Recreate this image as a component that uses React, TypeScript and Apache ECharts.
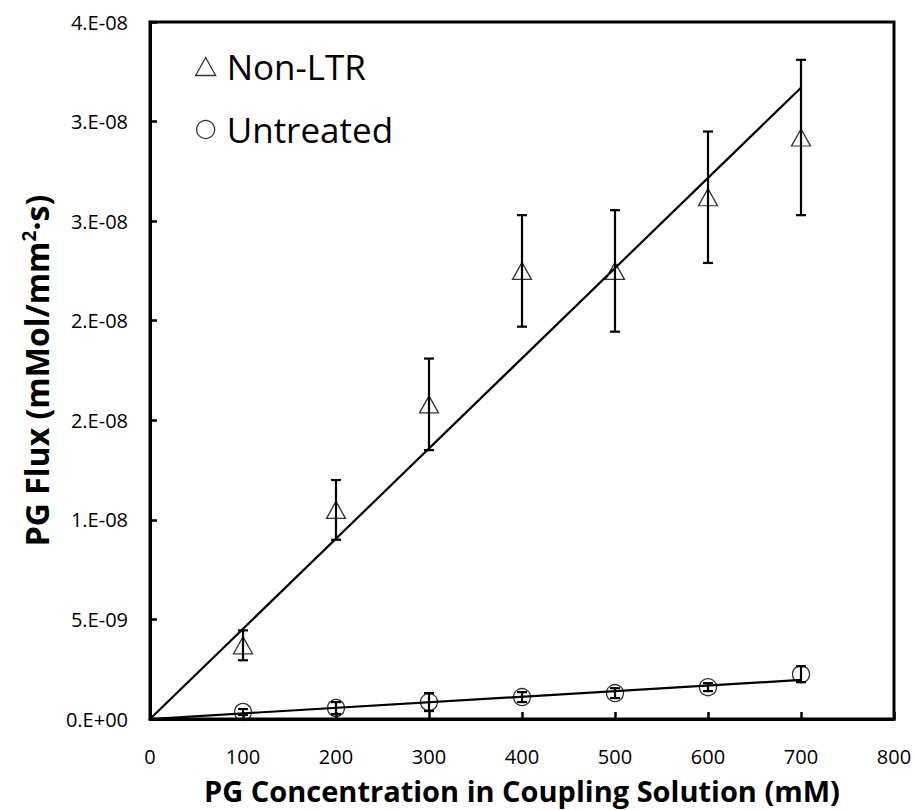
import React, { useEffect, useRef } from "react";
import * as echarts from "echarts";

// Data
const concentrations = [100, 200, 300, 400, 500, 600, 700];
const nonLtrFlux = [3.7e-9, 10.5e-9, 15.8e-9, 22.5e-9, 22.5e-9, 26.2e-9, 29.2e-9];
const nonLtrError = [0.75e-9, 1.5e-9, 2.3e-9, 2.8e-9, 3.05e-9, 3.3e-9, 3.9e-9];
const untreatedFlux = [0.35e-9, 0.55e-9, 0.85e-9, 1.1e-9, 1.3e-9, 1.6e-9, 2.25e-9];
const untreatedError = [0.15e-9, 0.3e-9, 0.45e-9, 0.25e-9, 0.25e-9, 0.2e-9, 0.4e-9];
const nonLtrTrendX = [0, 700];
const nonLtrTrendY = [0, 3.17e-8];
const untreatedTrendX = [0, 700];
const untreatedTrendY = [0, 1.96e-9];
const yTickLabels = ["0.E+00", "5.E-09", "1.E-08", "2.E-08", "2.E-08", "3.E-08", "3.E-08", "4.E-08"];
const seriesNames = ["Non-LTR", "Untreated"];

const FONT = "Open Sans";

function errorData(means: number[], errs: number[]) {
  return concentrations.map((x, i) => [x, means[i] - errs[i], means[i] + errs[i]]);
}

function renderErrorBar(params: any, api: any) {
  const x = api.value(0);
  const lo = api.coord([x, api.value(1)]);
  const hi = api.coord([x, api.value(2)]);
  const cap = 5;
  const style = { stroke: "#000", lineWidth: 2.2 };
  return {
    type: "group",
    children: [
      { type: "line", shape: { x1: lo[0], y1: lo[1], x2: hi[0], y2: hi[1] }, style },
      { type: "line", shape: { x1: hi[0] - cap, y1: hi[1], x2: hi[0] + cap, y2: hi[1] }, style },
      { type: "line", shape: { x1: lo[0] - cap, y1: lo[1], x2: lo[0] + cap, y2: lo[1] }, style },
    ],
  };
}

export default function App() {
  const ref = useRef<HTMLDivElement>(null);
  useEffect(() => {
    if (!ref.current) return;
    const chart = echarts.init(ref.current, null, { renderer: "svg" });
    const markerStyle = { color: "rgba(255,255,255,0)", borderColor: "#000", borderWidth: 1.3 };
    chart.setOption({
      animation: false,
      backgroundColor: "#fff",
      grid: {
        left: 150,
        top: 22,
        right: 23,
        bottom: 91,
        show: true,
        borderColor: "#000",
        borderWidth: 3,
        backgroundColor: "transparent",
      },
      legend: {
        orient: "vertical",
        left: 190,
        top: 44,
        itemGap: 28,
        itemWidth: 20,
        itemHeight: 18,
        textStyle: { fontFamily: FONT, fontSize: 35, color: "#000", padding: [0, 0, 0, 6] },
        data: [
          { name: seriesNames[0], icon: "triangle", itemStyle: { color: "#fff", borderColor: "#000", borderWidth: 1.3 } },
          { name: seriesNames[1], icon: "circle", itemStyle: { color: "#fff", borderColor: "#000", borderWidth: 1.3 } },
        ],
      },
      xAxis: {
        type: "value",
        min: 0,
        max: 800,
        interval: 100,
        name: "PG Concentration in Coupling Solution (mM)",
        nameLocation: "middle",
        nameGap: 57,
        nameTextStyle: { fontFamily: FONT, fontSize: 29, fontWeight: "bold", color: "#000" },
        axisLine: { show: true, lineStyle: { color: "#000", width: 3 } },
        axisTick: { show: true, inside: true, length: 7, lineStyle: { color: "#000", width: 2.5 } },
        axisLabel: { fontFamily: FONT, fontSize: 20, color: "#000", margin: 27 },
        splitLine: { show: false },
      },
      yAxis: {
        type: "value",
        min: 0,
        max: 3.5e-8,
        interval: 5e-9,
        name: "{a|PG Flux (mMol/mm}{sup|2}{a|·s)}",
        nameLocation: "middle",
        nameGap: 96,
        nameTextStyle: {
          fontFamily: FONT,
          fontSize: 32,
          fontWeight: "bold",
          color: "#000",
          rich: {
            a: { fontFamily: FONT, fontSize: 32, fontWeight: "bold", color: "#000" },
            sup: { fontFamily: FONT, fontSize: 19, fontWeight: "bold", color: "#000", padding: [0, 0, 16, 0] },
          },
        },
        axisLine: { show: true, lineStyle: { color: "#000", width: 3 } },
        axisTick: { show: true, inside: true, length: 7, lineStyle: { color: "#000", width: 2.5 } },
        axisLabel: {
          fontFamily: FONT,
          fontSize: 20,
          color: "#000",
          margin: 22,
          formatter: (_v: number, i: number) => yTickLabels[i] ?? "",
        },
        splitLine: { show: false },
      },
      series: [
        {
          name: seriesNames[0] + " trend",
          type: "line",
          data: nonLtrTrendX.map((x, i) => [x, nonLtrTrendY[i]]),
          symbol: "none",
          lineStyle: { color: "#000", width: 2.2 },
          silent: true,
          z: 1,
        },
        {
          name: seriesNames[1] + " trend",
          type: "line",
          data: untreatedTrendX.map((x, i) => [x, untreatedTrendY[i]]),
          symbol: "none",
          lineStyle: { color: "#000", width: 2.2 },
          silent: true,
          z: 1,
        },
        {
          name: seriesNames[0],
          type: "scatter",
          data: concentrations.map((x, i) => [x, nonLtrFlux[i]]),
          symbol: "triangle",
          symbolSize: [19, 17],
          itemStyle: markerStyle,
          z: 2,
        },
        {
          name: seriesNames[1],
          type: "scatter",
          data: concentrations.map((x, i) => [x, untreatedFlux[i]]),
          symbol: "circle",
          symbolSize: 17,
          itemStyle: markerStyle,
          z: 2,
        },
        {
          name: seriesNames[0] + " error",
          type: "custom",
          data: errorData(nonLtrFlux, nonLtrError),
          renderItem: renderErrorBar,
          encode: { x: 0, y: [1, 2] },
          z: 3,
        },
        {
          name: seriesNames[1] + " error",
          type: "custom",
          data: errorData(untreatedFlux, untreatedError),
          renderItem: renderErrorBar,
          encode: { x: 0, y: [1, 2] },
          z: 3,
        },
      ],
    });
    return () => chart.dispose();
  }, []);
  return (
    <div
      ref={ref}
      style={{ position: "fixed", left: 0, top: 0, width: 917, height: 810, background: "#fff" }}
    />
  );
}
